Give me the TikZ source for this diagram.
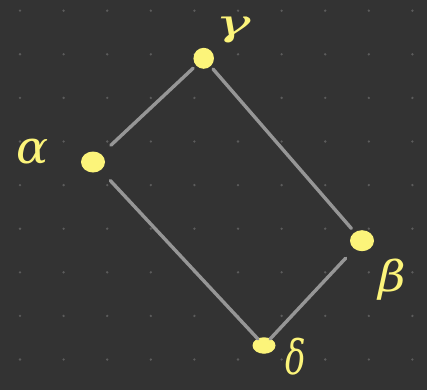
\documentclass[tikz,border=0pt]{standalone}
\usepackage{fontspec}
\newfontfamily\gkfont{DejaVu Serif}
\usetikzlibrary{shapes.geometric}
\definecolor{bg}{RGB}{51,51,51}
\definecolor{griddot}{RGB}{92,92,92}
\definecolor{hl}{RGB}{252,244,122}
\definecolor{edge}{RGB}{150,150,150}
\tikzset{
  vdot/.style={ellipse, fill=hl, draw=none, inner sep=0pt},
  lbl/.style={text=hl, inner sep=0pt, font=\gkfont\itshape\fontsize{34}{34}\selectfont},
  conn/.style={draw=edge, line width=3.4pt, line cap=round},
}
\begin{document}
\begin{tikzpicture}[x=1pt,y=-1pt]
\fill[bg] (0,0) rectangle (427,390);
\useasboundingbox (0,0) rectangle (427,390);
\foreach \i in {0,...,9}{
  \foreach \j in {0,...,8}{
    \fill[griddot] ({20+43.6*\i},{10.7+43.6*\j}) circle (1.3pt);
  }
}
% dots
\node[vdot, minimum width=24pt, minimum height=21pt] (a) at (93,162) {};
\node[vdot, minimum width=20.5pt, minimum height=21pt] (g) at (203.7,58.3) {};
\node[vdot, minimum width=24pt, minimum height=21pt] (b) at (362,240.7) {};
\node[vdot, minimum width=23pt, minimum height=16.5pt] (d) at (264,345.5) {};
% labels
\node[lbl] (la) at (32.5,152) {\scalebox{1.4}[1.35]{α}};
\node[lbl] (lg) at (233,30) {\scalebox{1.75}[1.05]{γ}};
\node[lbl] (lb) at (392,280) {\scalebox{1.4}[1.25]{β}};
\node[lbl] (ld) at (296,357) {\scalebox{1.0}[1.4]{δ}};
% connectors (shortening relative to centres, minus half the cap)
\draw[conn, shorten <=24.5pt, shorten >=14.5pt] (a.center) -- (g.center);
\draw[conn, shorten <=14.2pt, shorten >=16.3pt] (g.center) -- (b.center);
\draw[conn, shorten <=24pt, shorten >=9pt] (b.center) -- (d.center);
\draw[conn, shorten <=25.5pt, shorten >=9pt] (a.center) -- (d.center);
\end{tikzpicture}
\end{document}
